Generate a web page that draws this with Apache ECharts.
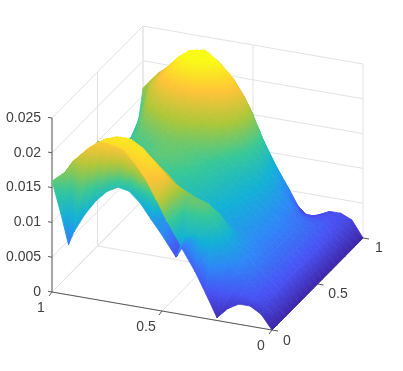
<!DOCTYPE html>
<html>
<head>
<meta charset="utf-8">
<style>html,body{margin:0;background:#fff}#main{width:403px;height:371px}</style>
<script src="https://cdn.jsdelivr.net/npm/echarts@6/dist/echarts.min.js"></script>
</head>
<body>
<div id="main"></div>
<script>
// grid positions, left axis (a) and right axis (b)
const aValues = [0, .05, .1, .15, .2, .25, .3, .35, .41, .435, .437, .5, .55, .6, .65, .7, .75, .8, .85, .9, .925, .96, 1]
const bValues = [0, .05, .052, .1, .15, .2, .25, .3, .35, .4, .45, .5, .55, .6, .65, .7, .75, .8, .85, .9, .95, 1]
// heights, in units of 1e-4, one row per aValues entry
const heights = [
  [0, 0, 0, 0, 0, 0, 0, 0, 0, 0, 0, 0, 0, 0, 0, 0, 0, 0, 0, 0, 0, 0],
  [20, 24, 24, 27, 29, 30, 31, 32, 32, 32, 32, 32, 32, 32, 31, 30, 29, 28, 26, 25, 24, 23],
  [29, 34, 34, 38, 41, 43, 44, 44, 45, 45, 45, 45, 45, 45, 45, 44, 42, 40, 36, 33, 32, 30],
  [29, 40, 40, 48, 54, 56, 57, 56, 55, 55, 55, 55, 55, 55, 54, 52, 48, 43, 38, 34, 32, 30],
  [20, 40, 40, 58, 68, 70, 69, 66, 64, 64, 65, 65, 65, 64, 62, 60, 55, 48, 38, 31, 27, 22],
  [4, 46, 46, 80, 92, 88, 84, 80, 76, 75, 76, 76, 76, 76, 76, 75, 74, 68, 48, 36, 24, 17],
  [35, 88, 88, 124, 130, 116, 99, 87, 82, 83, 85, 88, 88, 90, 92, 92, 90, 85, 78, 70, 45, 22],
  [65, 112, 112, 145, 142, 122, 104, 94, 91, 92, 95, 98, 100, 102, 105, 108, 108, 105, 100, 95, 70, 48],
  [95, 108, 108, 150, 148, 128, 111, 103, 100, 102, 105, 108, 110, 113, 118, 125, 130, 134, 134, 130, 105, 85],
  [81, 90, 90, 142, 152, 134, 117, 108, 105, 106, 110, 113, 115, 118, 124, 132, 140, 147, 150, 148, 122, 103],
  [81, 90, 90, 142, 152, 134, 117, 108, 105, 106, 110, 113, 115, 118, 124, 132, 140, 147, 150, 148, 122, 103],
  [109, 121, 121, 132, 162, 150, 130, 118, 115, 116, 120, 125, 128, 132, 140, 150, 160, 172, 182, 190, 170, 150],
  [129, 150, 150, 155, 174, 165, 145, 128, 122, 124, 128, 133, 136, 140, 148, 158, 172, 190, 205, 213, 193, 175],
  [150, 178, 178, 184, 190, 178, 155, 135, 128, 130, 135, 140, 142, 145, 152, 162, 178, 198, 216, 228, 213, 200],
  [164, 198, 198, 212, 206, 190, 165, 140, 132, 134, 138, 143, 146, 148, 155, 166, 182, 205, 226, 240, 227, 216],
  [167, 214, 214, 224, 215, 198, 170, 143, 134, 136, 140, 146, 148, 150, 157, 168, 185, 208, 231, 244, 238, 227],
  [158, 218, 218, 223, 216, 198, 170, 142, 133, 134, 138, 143, 146, 148, 155, 166, 182, 205, 228, 241, 235, 229],
  [142, 220, 220, 217, 211, 192, 163, 136, 128, 128, 132, 138, 140, 143, 150, 160, 176, 198, 218, 229, 225, 220],
  [120, 209, 209, 206, 203, 180, 150, 126, 118, 120, 125, 132, 135, 138, 144, 152, 165, 185, 203, 212, 209, 206],
  [92, 193, 193, 192, 188, 165, 135, 115, 108, 112, 120, 130, 133, 135, 138, 144, 152, 165, 180, 191, 193, 194],
  [72, 185, 185, 183, 174, 152, 126, 109, 105, 110, 122, 135, 136, 134, 133, 132, 138, 150, 168, 183, 186, 188],
  [115, 168, 168, 155, 142, 126, 113, 106, 108, 118, 130, 142, 140, 135, 128, 120, 118, 122, 135, 150, 165, 176],
  [159, 150, 150, 115, 105, 105, 110, 118, 125, 135, 143, 150, 143, 135, 125, 113, 105, 95, 85, 80, 119, 161]
]
// the two nearest columns are coloured lower than their height
const nearColour0 = [0, 14, 20, 20, 12, 6, 30, 42, 50, 40, 30, 70, 85, 100, 115, 122, 118, 110, 100, 85, 60, 105, 145]
const nearColour1 = [0, 24, 36, 40, 40, 46, 88, 112, 108, 90, 35, 75, 125, 165, 185, 200, 205, 205, 195, 180, 170, 155, 145]
// the ridge just behind them reads warmer than its height for mid a
const ridgeLift = [0, 0, 0, 0, 0, 0, 0, 0, 0, 0, 0, 15, 30, 25, 10, 0, 0, 0, 0, 0, 0, 0, 0]
const colourMax = 235
const parula = [[62, 38, 168], [72, 82, 244], [46, 135, 247], [18, 177, 214], [55, 200, 151], [171, 199, 57], [254, 195, 56], [249, 251, 21]]

const zTicks = [0, 0.005, 0.01, 0.015, 0.02, 0.025]
const zTickLabels = ['0', '0.005', '0.01', '0.015', '0.02', '0.025']
const planeTicks = [0, 0.5, 1]
const planeTickLabels = ['0', '0.5', '1']

// view: where the origin sits and how each data axis runs on screen
const origin = [272, 330]
const aDir = [-220, -38]
const bDir = [91, -92]
const zDir = -6960
const zTop = 0.025

function project(a, b, z) {
  return [origin[0] + aDir[0] * a + bDir[0] * b, origin[1] + aDir[1] * a + bDir[1] * b + zDir * z]
}

function parulaColour(t) {
  t = Math.max(0, Math.min(1, t)) * (parula.length - 1)
  const k = Math.min(Math.floor(t), parula.length - 2)
  const f = t - k
  const c = parula[k].map((v, n) => Math.round(v + (parula[k + 1][n] - v) * f))
  return 'rgb(' + c.join(',') + ')'
}

function cellColour(i, j) {
  if (j === 0) return nearColour0[i]
  if (j === 1) return nearColour1[i]
  if (j >= 2 && j <= 4) return heights[i][j] + ridgeLift[i]
  return heights[i][j]
}

// triangle shaded as a linear gradient between its lowest and highest colour value
function triangleFill(p, c) {
  const avg = (c[0] + c[1] + c[2]) / 3
  const ux = p[1][0] - p[0][0], uy = p[1][1] - p[0][1]
  const vx = p[2][0] - p[0][0], vy = p[2][1] - p[0][1]
  const det = ux * vy - uy * vx
  const lo = Math.min(c[0], c[1], c[2]), hi = Math.max(c[0], c[1], c[2])
  if (Math.abs(det) < 1e-6 || hi - lo < 0.5) return parulaColour(avg / colourMax)
  const dc1 = c[1] - c[0], dc2 = c[2] - c[0]
  const gx = (dc1 * vy - dc2 * uy) / det
  const gy = (dc2 * ux - dc1 * vx) / det
  const g2 = gx * gx + gy * gy
  const x0 = p[0][0] + gx * (lo - c[0]) / g2, y0 = p[0][1] + gy * (lo - c[0]) / g2
  const x1 = p[0][0] + gx * (hi - c[0]) / g2, y1 = p[0][1] + gy * (hi - c[0]) / g2
  const stops = []
  for (let s = 0; s <= 6; s++) {
    stops.push({ offset: s / 6, color: parulaColour((lo + (hi - lo) * s / 6) / colourMax) })
  }
  return new echarts.graphic.LinearGradient(x0, y0, x1, y1, stops, true)
}

// far corner first so nearer cells paint over
const triangles = []
for (let i = aValues.length - 2; i >= 0; i--) {
  for (let j = bValues.length - 2; j >= 0; j--) {
    triangles.push([i, j, 0])
    triangles.push([i, j, 1])
  }
}

function renderSurface(params, api) {
  const i = api.value(0), j = api.value(1), t = api.value(2)
  const corners = t === 0
    ? [[i + 1, j + 1], [i + 1, j], [i, j + 1]]
    : [[i + 1, j], [i, j], [i, j + 1]]
  const pts = corners.map(q => api.coord(project(aValues[q[0]], bValues[q[1]], heights[q[0]][q[1]] / 1e4)))
  const cols = corners.map(q => cellColour(q[0], q[1]))
  const fill = triangleFill(pts, cols)
  return {
    type: 'polygon',
    shape: { points: pts },
    style: { fill: fill, stroke: fill, lineWidth: 0.8, lineJoin: 'round' },
    silent: true
  }
}

function renderFrame(params, api) {
  const children = []
  const line = (p, q, color, width) => {
    const s = api.coord(p), e = api.coord(q)
    children.push({
      type: 'line',
      shape: { x1: s[0], y1: s[1], x2: e[0], y2: e[1] },
      style: { stroke: color, lineWidth: width || 1 }
    })
  }
  const text = (p, str, align) => {
    const s = api.coord(p)
    children.push({
      type: 'text',
      style: { x: s[0], y: s[1], text: str, fill: '#404040', font: '14px "Liberation Sans", Arial, sans-serif', align: align, verticalAlign: 'middle' }
    })
  }
  const grid = '#e3e3e3', dark = '#5a5a5a'
  // back walls and floor
  zTicks.forEach(z => {
    line(project(1, 0, z), project(1, 1, z), grid)
    line(project(1, 1, z), project(0, 1, z), grid)
  })
  planeTicks.forEach(v => {
    line(project(v, 0, 0), project(v, 1, 0), grid)
    line(project(0, v, 0), project(1, v, 0), grid)
    line(project(1, v, 0), project(1, v, zTop), grid)
    line(project(v, 1, 0), project(v, 1, zTop), grid)
  })
  // axes in front
  line(project(1, 0, 0), project(1, 0, zTop), dark)
  line(project(1, 0, 0), project(0, 0, 0), dark)
  line(project(0, 0, 0), project(0, 1, 0), dark)
  zTicks.forEach((z, k) => {
    const p = project(1, 0, z)
    line(p, [p[0] - 4, p[1] - 0.7], dark)
    text([p[0] - 11, p[1]], zTickLabels[k], 'right')
  })
  planeTicks.forEach((v, k) => {
    const pa = project(v, 0, 0)
    line(pa, [pa[0] - 3, pa[1] + 4], dark)
    const pb = project(0, v, 0)
    line(pb, [pb[0] + 6, pb[1] + 1], dark)
  })
  text([41, 308], planeTickLabels[2], 'center')
  text([146, 327], planeTickLabels[1], 'center')
  text([261, 346], planeTickLabels[0], 'center')
  text([287, 341], planeTickLabels[0], 'center')
  text([338, 294], planeTickLabels[1], 'center')
  text([379, 248], planeTickLabels[2], 'center')
  return { type: 'group', children: children, silent: true }
}

const myChart = echarts.init(document.getElementById('main'), null, { renderer: 'canvas' })
myChart.setOption({
  animation: false,
  backgroundColor: '#fff',
  grid: { left: 0, right: 0, top: 0, bottom: 0 },
  xAxis: { type: 'value', min: 0, max: 403, show: false },
  yAxis: { type: 'value', min: 0, max: 371, inverse: true, show: false },
  series: [
    { type: 'custom', coordinateSystem: 'cartesian2d', data: [[0, 0]], renderItem: renderFrame, clip: false, z: 1 },
    { type: 'custom', coordinateSystem: 'cartesian2d', data: triangles, renderItem: renderSurface, progressive: 0, clip: false, z: 2 }
  ]
})
</script>
</body>
</html>
